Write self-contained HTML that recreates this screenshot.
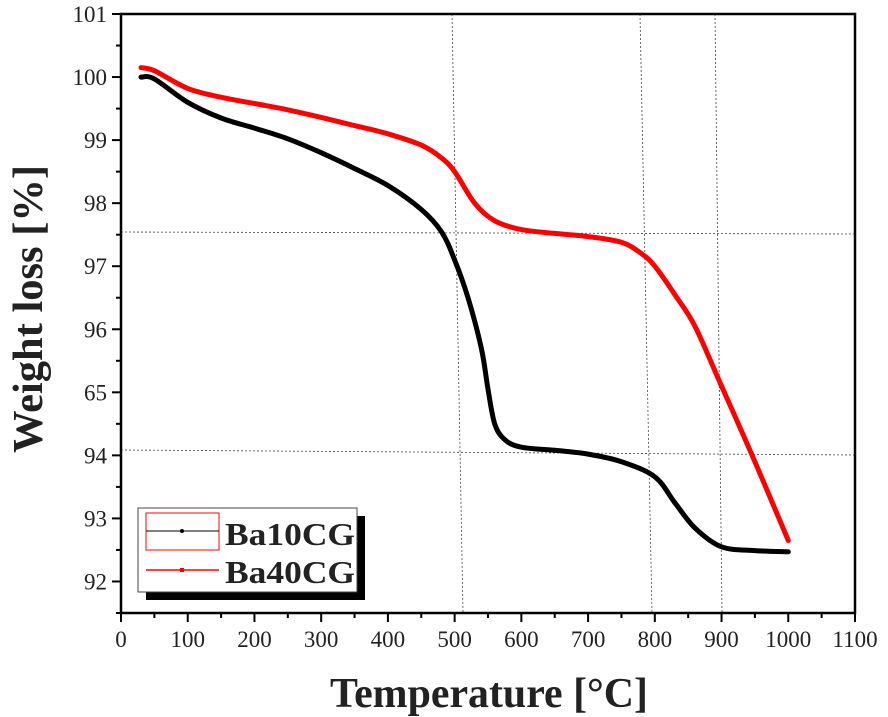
<!DOCTYPE html>
<html><head><meta charset="utf-8"><style>
body{margin:0;background:#fff;}
svg{display:block;font-family:"Liberation Serif",serif;}
</style></head><body>
<svg id="chart" width="888" height="717" viewBox="0 0 888 717"></svg>
<script>
const xTicks=[0,100,200,300,400,500,600,700,800,900,1000,1100];
const yTicks=[92,93,94,95,96,97,98,99,100,101];
const yTickLabels=["92","93","94","65","96","97","98","99","100","101"];
const ba10T=[30,50,100,150,200,250,300,350,400,450,480,500,520,540,550,560,575,600,650,700,750,800,830,860,900,950,1000];
const ba10W=[100.0,99.97,99.6,99.35,99.19,99.02,98.8,98.55,98.28,97.9,97.55,97.1,96.5,95.7,95.05,94.5,94.25,94.13,94.08,94.02,93.9,93.66,93.25,92.85,92.55,92.49,92.47];
const ba40T=[30,50,100,150,200,250,300,350,400,450,480,500,530,560,600,650,700,750,780,800,830,860,900,950,1000];
const ba40W=[100.15,100.1,99.82,99.68,99.58,99.48,99.36,99.23,99.1,98.92,98.72,98.5,98.0,97.72,97.58,97.52,97.47,97.38,97.2,97.0,96.55,96.05,95.1,93.9,92.65];
const X0=121,X1=855,Y0=613,Y1=14;
const sx=v=>X0+(v-0)*(X1-X0)/1100;
const sy=v=>Y0-(v-91.5)*(Y0-Y1)/9.5;
const svg=document.getElementById('chart');
const NS='http://www.w3.org/2000/svg';
function mk(tag,attrs,parent){const e=document.createElementNS(NS,tag);for(const k in attrs)e.setAttribute(k,attrs[k]);(parent||svg).appendChild(e);return e;}
const guides=[[452,14,463,613],[640,14,652,613],[715,14,722,613],[121,232,855,234],[121,450,855,455]];
guides.forEach(g=>{const l=mk('line',{x1:g[0],y1:g[1],x2:g[2],y2:g[3],stroke:'#444','stroke-width':0.8,'stroke-dasharray':'2,2'});

});
const fr=mk('rect',{x:X0,y:Y1,width:X1-X0,height:Y0-Y1,fill:'none',stroke:'#000','stroke-width':2.5});


xTicks.forEach((t,i)=>{
 mk('line',{x1:sx(t),y1:Y0,x2:sx(t),y2:Y0+9,stroke:'#000','stroke-width':2});
 if(i<xTicks.length-1)mk('line',{x1:sx(t+50),y1:Y0,x2:sx(t+50),y2:Y0+5,stroke:'#000','stroke-width':2});
 const tx=mk('text',{x:sx(t),y:Y0+34,'text-anchor':'middle','font-size':23,fill:'#222'});tx.textContent=t;
 
 
});
yTicks.forEach((t,i)=>{
 mk('line',{x1:X0-9,y1:sy(t),x2:X0,y2:sy(t),stroke:'#000','stroke-width':2});
 mk('line',{x1:X0-5,y1:sy(t-0.5),x2:X0,y2:sy(t-0.5),stroke:'#000','stroke-width':2});
 const tx=mk('text',{x:X0-14,y:sy(t)+8,'text-anchor':'end','font-size':23,fill:'#222'});tx.textContent=yTickLabels[i];
 
 
});
function series(T,W,color,name){
 const P=T.map((t,i)=>[sx(t),sy(W[i])]);
 let d='M'+P[0][0].toFixed(1)+','+P[0][1].toFixed(1);
 for(let i=0;i<P.length-1;i++){
  const p0=P[Math.max(0,i-1)],p1=P[i],p2=P[i+1],p3=P[Math.min(P.length-1,i+2)];
  const c1=[p1[0]+(p2[0]-p0[0])/6,p1[1]+(p2[1]-p0[1])/6];
  const c2=[p2[0]-(p3[0]-p1[0])/6,p2[1]-(p3[1]-p1[1])/6];
  d+=' C'+c1.map(v=>v.toFixed(1)).join(',')+' '+c2.map(v=>v.toFixed(1)).join(',')+' '+p2.map(v=>v.toFixed(1)).join(',');
 }
 const p=mk('path',{d:d,fill:'none',stroke:color,'stroke-width':5,'stroke-linejoin':'round','stroke-linecap':'round'});
 
 
}
series(ba10T,ba10W,'#000','ba10cg-line');
series(ba40T,ba40W,'#f00','ba40cg-line');
const lg=mk('g',{});


mk('rect',{x:146,y:516,width:219,height:84,fill:'#000'},lg);
mk('rect',{x:138,y:508,width:219,height:84,fill:'#fff',stroke:'#444','stroke-width':1},lg);
mk('rect',{x:146,y:513,width:73,height:37,fill:'none',stroke:'#f00','stroke-width':1},lg);
mk('line',{x1:146,y1:531,x2:219,y2:531,stroke:'#000','stroke-width':1},lg);
mk('circle',{cx:182,cy:531,r:2,fill:'#000'},lg);
mk('line',{x1:146,y1:570,x2:219,y2:570,stroke:'#f00','stroke-width':1.5},lg);
mk('rect',{x:180,y:568,width:4,height:4,fill:'#f00'},lg);
const l1=mk('text',{x:225,y:545,'font-size':32,'font-weight':'bold',fill:'#222',textLength:130,lengthAdjust:'spacingAndGlyphs'},lg);l1.textContent='Ba10CG';


const l2=mk('text',{x:225,y:583,'font-size':32,'font-weight':'bold',fill:'#222',textLength:130,lengthAdjust:'spacingAndGlyphs'},lg);l2.textContent='Ba40CG';


const xt=mk('text',{x:489,y:707,'text-anchor':'middle','font-size':42,'font-weight':'bold',fill:'#222',textLength:318,lengthAdjust:'spacingAndGlyphs'});xt.textContent='Temperature [°C]';


const yt=mk('text',{x:0,y:0,'text-anchor':'middle','font-size':42,'font-weight':'bold',fill:'#222',textLength:288,lengthAdjust:'spacingAndGlyphs',transform:'translate(42,309) rotate(-90)'});yt.textContent='Weight loss [%]';


</script>
</body></html>
